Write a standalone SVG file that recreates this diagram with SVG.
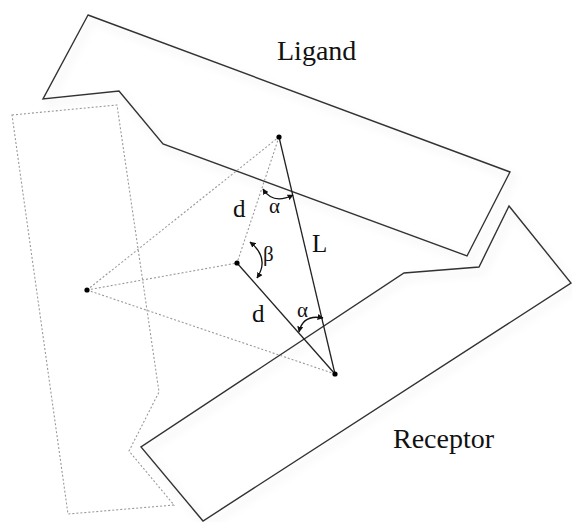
<svg xmlns="http://www.w3.org/2000/svg" width="572" height="522" viewBox="0 0 572 522">
<style>
.body{fill:none;stroke:#333;stroke-width:1.4;stroke-linejoin:miter}
.ghost{fill:none;stroke:#999;stroke-width:1.1;stroke-dasharray:2,2}
.solid{fill:none;stroke:#222;stroke-width:1.3}
.arc{fill:none;stroke:#111;stroke-width:1.3}
.dot{fill:#000}
.lbl{fill:#111}
.big{font-size:28px}
.mid{font-size:25px}
.sm{font-size:21px}
</style>
<defs>
<filter id="sh" x="-10%" y="-10%" width="130%" height="130%">
<feDropShadow dx="4" dy="5" stdDeviation="4" flood-color="#000" flood-opacity="0.12"/>
</filter>
<marker id="ah" viewBox="0 0 10 10" refX="9" refY="5" markerWidth="6" markerHeight="6" orient="auto-start-reverse" markerUnits="userSpaceOnUse">
<path d="M0,0 L10,5 L0,10 z" fill="#111"/>
</marker>
</defs>
<g id="ligand">
<polygon class="body" filter="url(#sh)" fill="#fff" points="88,15 510,172 467,256 163,144 119,91 43,99"/>
<text class="lbl big" font-family="'Liberation Serif', 'Times New Roman', serif" x="277" y="60">Ligand</text>
</g>
<g id="receptor">
<polygon class="body" filter="url(#sh)" points="509,206 571,283 203,521 141,447 404,273 479,267"/>
<text class="lbl big" font-family="'Liberation Serif', 'Times New Roman', serif" x="393" y="448">Receptor</text>
</g>
<g id="ghost">
<polygon class="ghost" points="12,115 117,105 159,392 129,451 174,505 68,514"/>
</g>
<g id="connectors">
<line class="ghost" x1="87" y1="290" x2="279" y2="137"/>
<line class="ghost" x1="87" y1="290" x2="237" y2="263"/>
<line class="ghost" x1="87" y1="290" x2="335" y2="374"/>
<line class="ghost" x1="279" y1="137" x2="237" y2="263"/>
<line class="solid" x1="279" y1="137" x2="335" y2="374"/>
<line class="solid" x1="237" y1="263" x2="335" y2="374"/>
<path class="arc" d="M263,189 Q273,205 293,195" marker-start="url(#ah)" marker-end="url(#ah)"/>
<path class="arc" d="M250,242 Q270,258 257,278" marker-start="url(#ah)" marker-end="url(#ah)"/>
<path class="arc" d="M299,332 Q303,314 323,318" marker-start="url(#ah)" marker-end="url(#ah)"/>
</g>
<g id="points">
<circle class="dot" cx="279" cy="137" r="2.6"/>
<circle class="dot" cx="237" cy="263" r="2.6"/>
<circle class="dot" cx="335" cy="374" r="2.6"/>
<circle class="dot" cx="87" cy="290" r="2.6"/>
</g>
<g id="labels" font-family="'Liberation Serif', 'Times New Roman', serif">
<text class="lbl mid" x="233" y="217">d</text>
<text class="lbl mid" x="252" y="322">d</text>
<text class="lbl mid" x="312" y="252">L</text>
<text class="lbl sm" x="269" y="213">α</text>
<text class="lbl sm" x="263" y="261">β</text>
<text class="lbl sm" x="297" y="317">α</text>
</g>
</svg>
